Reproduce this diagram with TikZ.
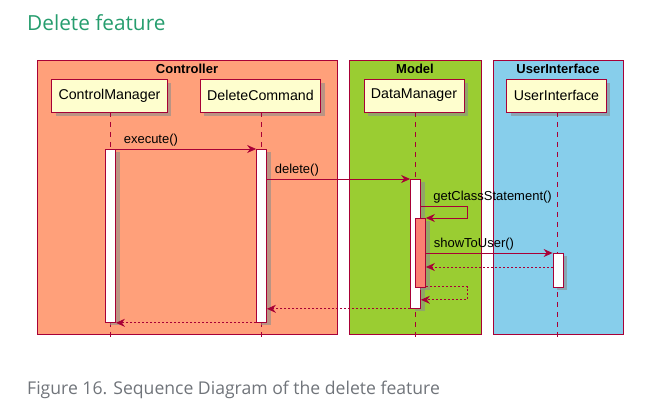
\documentclass[tikz,border=0pt]{standalone}
\usepackage{fontspec}
\setsansfont{Liberation Sans}
\newfontfamily\opensans{Open Sans}
\usepackage{xcolor}
\usepackage{tikz}
\usetikzlibrary{arrows.meta,positioning,shadows}

\definecolor{umlred}{HTML}{A80036}
\definecolor{partfill}{HTML}{FEFECE}
\definecolor{ctrlfill}{HTML}{FFA07A}
\definecolor{modelfill}{HTML}{9ACD32}
\definecolor{uifill}{HTML}{87CEEB}
\definecolor{nestfill}{HTML}{FA8072}
\definecolor{titlegreen}{RGB}{38,157,110}
\definecolor{capgray}{RGB}{112,116,122}

\begin{document}
\begin{tikzpicture}[
		x=1pt, y=-1pt,
		font=\sffamily,
		>={Stealth[length=9pt,width=8pt,inset=3pt]},
		grpbox/.style={draw=umlred, line width=0.8pt},
		grptitle/.style={font=\sffamily\bfseries\fontsize{13}{15}\selectfont, inner sep=0},
		part/.style={draw=umlred, line width=0.8pt, fill=partfill, minimum height=33pt, inner xsep=7pt, font=\sffamily\fontsize{14.2}{16}\selectfont, drop shadow={shadow xshift=4pt, shadow yshift=-4pt, fill=black!45, opacity=.6}},
		act/.style={draw=umlred, line width=0.8pt, fill=white, minimum width=10pt, inner sep=0, anchor=north, drop shadow={shadow xshift=4pt, shadow yshift=-3pt, fill=black!45, opacity=.6}},
		lifeline/.style={umlred, line width=0.7pt, dash pattern=on 5pt off 5pt},
		msg/.style={umlred, line width=0.8pt, ->},
		ret/.style={umlred, line width=0.8pt, ->, dash pattern=on 2pt off 2pt},
		msglbl/.style={text=black, font=\sffamily\fontsize{13}{15}\selectfont, inner sep=2pt, anchor=south west, xshift=5.5pt}
		]
		\useasboundingbox (0,0) rectangle (650,404);
		
		% Heading and caption
		\node[anchor=base west, inner sep=0, text=titlegreen, font=\opensans\fontsize{20.8}{25}\selectfont] (title) at (27,31) {Delete feature};
		\node[anchor=base west, inner sep=0, text=capgray, font=\opensans\fontsize{17.6}{21}\selectfont] (caption) at (27,394) {Figure 16. Sequence Diagram of the delete feature};
		
		% Boxes
		\draw[grpbox, fill=ctrlfill] (37,60) rectangle (337,334);
		\draw[grpbox, fill=modelfill] (349,60) rectangle (481,334);
		\draw[grpbox, fill=uifill] (493,60) rectangle (623,334);
		\node[grptitle] (ctrltitle) at (187,68.5) {Controller};
		\node[grptitle] (modeltitle) at (415,68.5) {Model};
		\node[grptitle] (uititle) at (558,68.5) {UserInterface};
		
		% Participants
		\node[part] (cm) at (109.5,95.5) {ControlManager};
		\node[part] (dc) at (260.5,95.5) {DeleteCommand};
		\node[part] (dm) at (414,95.5) {DataManager};
		\node[part] (ui) at (556.5,95.5) {UserInterface};
		
		% Lifelines
		\coordinate (lifeend) at (0,341);
		\foreach \p in {cm,dc,dm,ui}
		\draw[lifeline] ([xshift=1pt]\p.south) -- ([xshift=1pt]\p.south |- lifeend);
		
		% Activations
		\node[act, minimum height=173pt] (cmact) at (110.5,149) {};
		\node[act, minimum height=173pt] (dcact) at (261.5,149) {};
		\node[act, minimum height=129pt] (dmact) at (415.5,179) {};
		\node[act, fill=nestfill, minimum height=69pt] (nestact) at (420.5,218) {};
		\node[act, minimum height=34pt] (uiact) at (558,253) {};
		
		% Messages
		\draw[msg] (cmact.north east) -- node[msglbl, pos=0] {execute()} (dcact.north west);
		\draw[msg] (dcact.east |- dmact.north) -- node[msglbl, pos=0] {delete()} (dmact.north west);
		\draw[msg] ([yshift=-27pt]dmact.north east) -- node[msglbl, pos=0, xshift=4.5pt] {getClassStatement()} ++(46.5,0) |- (nestact.north east);
		\draw[msg] (nestact.east |- uiact.north) -- node[msglbl, pos=0] {showToUser()} (uiact.north west);
		
		% Returns
		\coordinate (uiret) at ([yshift=-14pt]uiact.north west);
		\draw[ret] (uiret) -- (uiret -| nestact.east);
		\draw[ret] ([yshift=1pt]nestact.south east) -- ++(41.5,0) |- ([yshift=9pt]dmact.south east);
		\draw[ret] (dmact.south west) -- (dmact.south west -| dcact.east);
		\draw[ret] (dcact.south west) -- (cmact.south east);
		
\end{tikzpicture}
\end{document}
